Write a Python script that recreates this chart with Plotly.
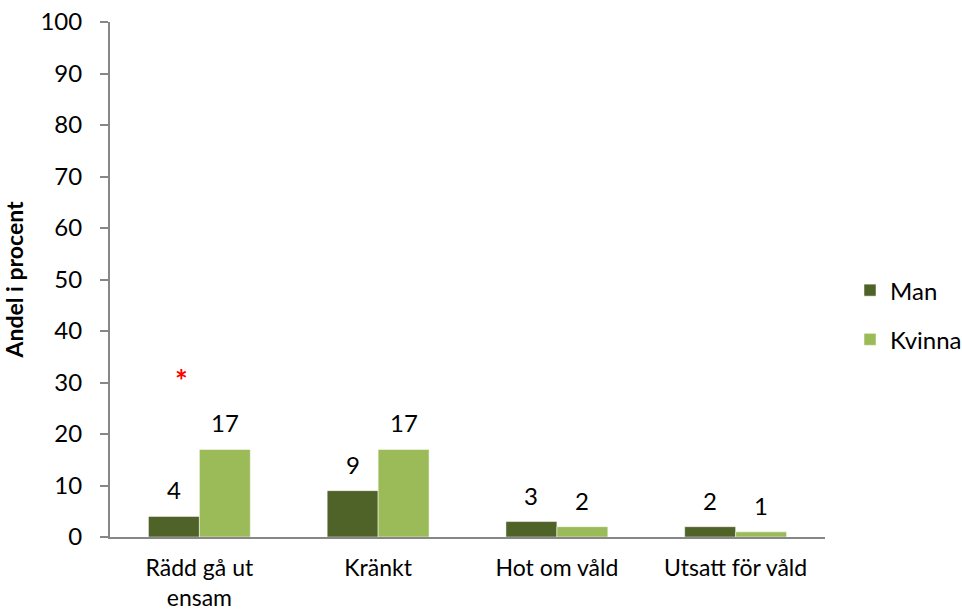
import plotly.graph_objects as go

categories = ["Rädd gå ut<br>ensam", "Kränkt", "Hot om våld", "Utsatt för våld"]
man = [4, 9, 3, 2]
kvinna = [17, 17, 2, 1]
# significant difference marker (value height where the star sits)
star_y = [31, None, None, None]
y_ticks = list(range(0, 101, 10))

FONT = "Lato, Calibri, sans-serif"
GRAY = "#878787"

fig = go.Figure()
fig.add_trace(go.Bar(x=categories, y=man, name="Man", marker_color="#4F6228", legendgroup="m"))
fig.add_trace(go.Bar(x=categories, y=kvinna, name="Kvinna", marker_color="#9BBB59", legendgroup="k"))

# data labels above the bars
for cat, m, k in zip(categories, man, kvinna):
    fig.add_annotation(x=cat, y=m, text=str(m), showarrow=False, xshift=-25.5, yshift=10, yanchor="bottom",
                       font=dict(size=24, color="black", family=FONT))
    fig.add_annotation(x=cat, y=k, text=str(k), showarrow=False, xshift=25.5, yshift=10, yanchor="bottom",
                       font=dict(size=24, color="black", family=FONT))

for cat, s in zip(categories, star_y):
    if s is not None:
        fig.add_annotation(x=cat, y=s, text="<b>*</b>", showarrow=False, xshift=-18, yshift=-3, yanchor="middle",
                           font=dict(size=30, color="#FF0000", family=FONT))

fig.update_layout(
    width=962, height=613, template="plotly_white", barmode="group", bargap=0.43, bargroupgap=0,
    plot_bgcolor="white", paper_bgcolor="white",
    margin=dict(l=110, r=137, t=22, b=76, autoexpand=False),
    font=dict(family=FONT, size=24, color="black"),
    legend=dict(x=1.035, y=0.431, xanchor="left", yanchor="middle", tracegroupgap=15,
                font=dict(size=24, family=FONT), itemwidth=30),
    showlegend=True,
)
fig.update_xaxes(showgrid=False, showline=True, linecolor=GRAY, linewidth=2, ticks="", automargin=False,
                 ticklabelstandoff=9, tickfont=dict(size=23))
fig.update_yaxes(range=[0, 100], tickvals=y_ticks, showgrid=False, showline=True, linecolor=GRAY, linewidth=2,
                 ticks="outside", ticklen=8, tickcolor=GRAY, tickwidth=2, ticklabelstandoff=13, zeroline=False,
                 automargin=False,
                 title=dict(text="<b>Andel i procent</b>", font=dict(size=23), standoff=12),
                 tickfont=dict(size=24))

# drop the browser's default body margin so the figure sits at the page corner
fig.write_html("out.html", config={"displayModeBar": False},
               post_script="document.body.style.margin='0';document.body.style.overflow='hidden';")
